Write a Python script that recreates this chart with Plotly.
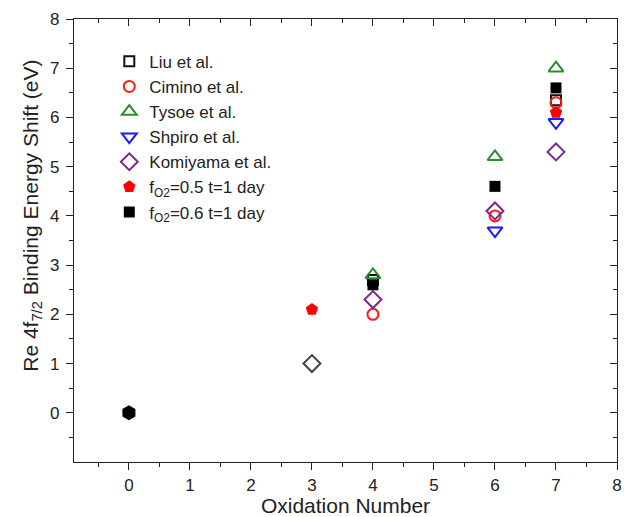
import plotly.graph_objects as go

# ---- data (oxidation number, binding energy shift in eV) ----
liu_x = [4, 7]
liu_y = [2.7, 6.35]
cimino_x = [4, 6, 7]
cimino_y = [2.0, 4.0, 6.3]
tysoe_x = [4, 6, 7]
tysoe_y = [2.8, 5.2, 7.0]
shpiro_x = [6, 7]
shpiro_y = [3.7, 5.9]
komiyama_x = [4, 6, 7]
komiyama_y = [2.3, 4.1, 5.3]
komiyama3_x = [3]
komiyama3_y = [1.0]
f05_x = [3, 7]
f05_y = [2.1, 6.1]
f06_x = [4, 6, 7]
f06_y = [2.6, 4.6, 6.6]
metal_x = [0]
metal_y = [0]

FONT = "Liberation Sans, Arial, sans-serif"
TXT = "#222222"
fig = go.Figure()

def open_trace(name, x, y, symbol, color, size=11, show=True):
    fig.add_trace(go.Scatter(
        x=x, y=y, mode="markers", name=name, showlegend=show,
        marker=dict(symbol=symbol + "-open", size=size, color=color,
                    line=dict(width=2, color=color))))

open_trace("Liu et al.", liu_x, liu_y, "square", "#111111", 10)
open_trace("Cimino et al.", cimino_x, cimino_y, "circle", "#ff1a1a", 11)
open_trace("Tysoe et al.", tysoe_x, tysoe_y, "triangle-up", "#2e8b2e", 13)
open_trace("Shpiro et al.", shpiro_x, shpiro_y, "triangle-down", "#1a1aff", 13)
open_trace("Komiyama et al.", komiyama_x, komiyama_y, "diamond", "#7a2a8a", 13)
open_trace("Komiyama 3", komiyama3_x, komiyama3_y, "diamond", "#444444", 13, show=False)

fig.add_trace(go.Scatter(
    x=f05_x, y=f05_y, mode="markers", name="f<sub>O2</sub>=0.5 t=1 day",
    marker=dict(symbol="pentagon", size=13, color="#ff0000",
                line=dict(width=0))))
fig.add_trace(go.Scatter(
    x=f06_x, y=f06_y, mode="markers", name="f<sub>O2</sub>=0.6 t=1 day",
    marker=dict(symbol="square", size=11, color="#000000",
                line=dict(width=0))))
fig.add_trace(go.Scatter(
    x=metal_x, y=metal_y, mode="markers", showlegend=False,
    marker=dict(symbol="hexagon", size=15, color="#000000", line=dict(width=0))))

# invisible trace for mirrored inward ticks (top / right)
fig.add_trace(go.Scatter(x=[], y=[], xaxis="x2", yaxis="y2", showlegend=False,
                         hoverinfo="skip"))

XR = [-0.9, 8]
YR = [-1, 8]
tickfont = dict(family=FONT, size=17, color=TXT)
minor_vals = [i + 0.5 for i in range(-1, 8)]

def axis_common(ticks):
    return dict(tickmode="array", tickvals=list(range(0, 9)),
                ticks=ticks, ticklen=7, tickwidth=1.3, tickcolor=TXT,
                showline=True, linecolor=TXT, linewidth=1.3, showgrid=False,
                zeroline=False, automargin=False,
                minor=dict(tickvals=minor_vals, ticks=ticks, ticklen=4,
                           tickcolor=TXT, tickwidth=1.3))

fig.update_layout(
    width=629, height=517,
    margin=dict(l=74, r=12, t=19, b=55),
    paper_bgcolor="white", plot_bgcolor="white",
    font=dict(family=FONT, color=TXT),
    showlegend=True,
    legend=dict(x=0.065, y=0.944, xanchor="left", yanchor="top",
                font=dict(family=FONT, size=17, color=TXT),
                bgcolor="rgba(0,0,0,0)", tracegroupgap=0, itemwidth=30),
    xaxis=dict(range=XR, tickfont=tickfont, ticklabelstandoff=0,
               title=dict(text="Oxidation Number",
                          font=dict(family=FONT, size=21, color=TXT),
                          standoff=14),
               **axis_common("outside")),
    yaxis=dict(range=YR, tickfont=tickfont, ticklabelstandoff=3,
               **axis_common("outside")),
    xaxis2=dict(range=XR, overlaying="x", side="top", anchor="y2",
                showticklabels=False, **axis_common("inside")),
    yaxis2=dict(range=YR, overlaying="y", side="right", anchor="x2",
                showticklabels=False, **axis_common("inside")),
    annotations=[dict(text="Re 4f<sub>7/2</sub> Binding Energy Shift (eV)",
                      xref="paper", yref="paper", x=-0.078, y=0.555,
                      xanchor="center", yanchor="middle", textangle=-90,
                      showarrow=False,
                      font=dict(family=FONT, size=21, color=TXT))],
)

fig.write_html("out.html")
